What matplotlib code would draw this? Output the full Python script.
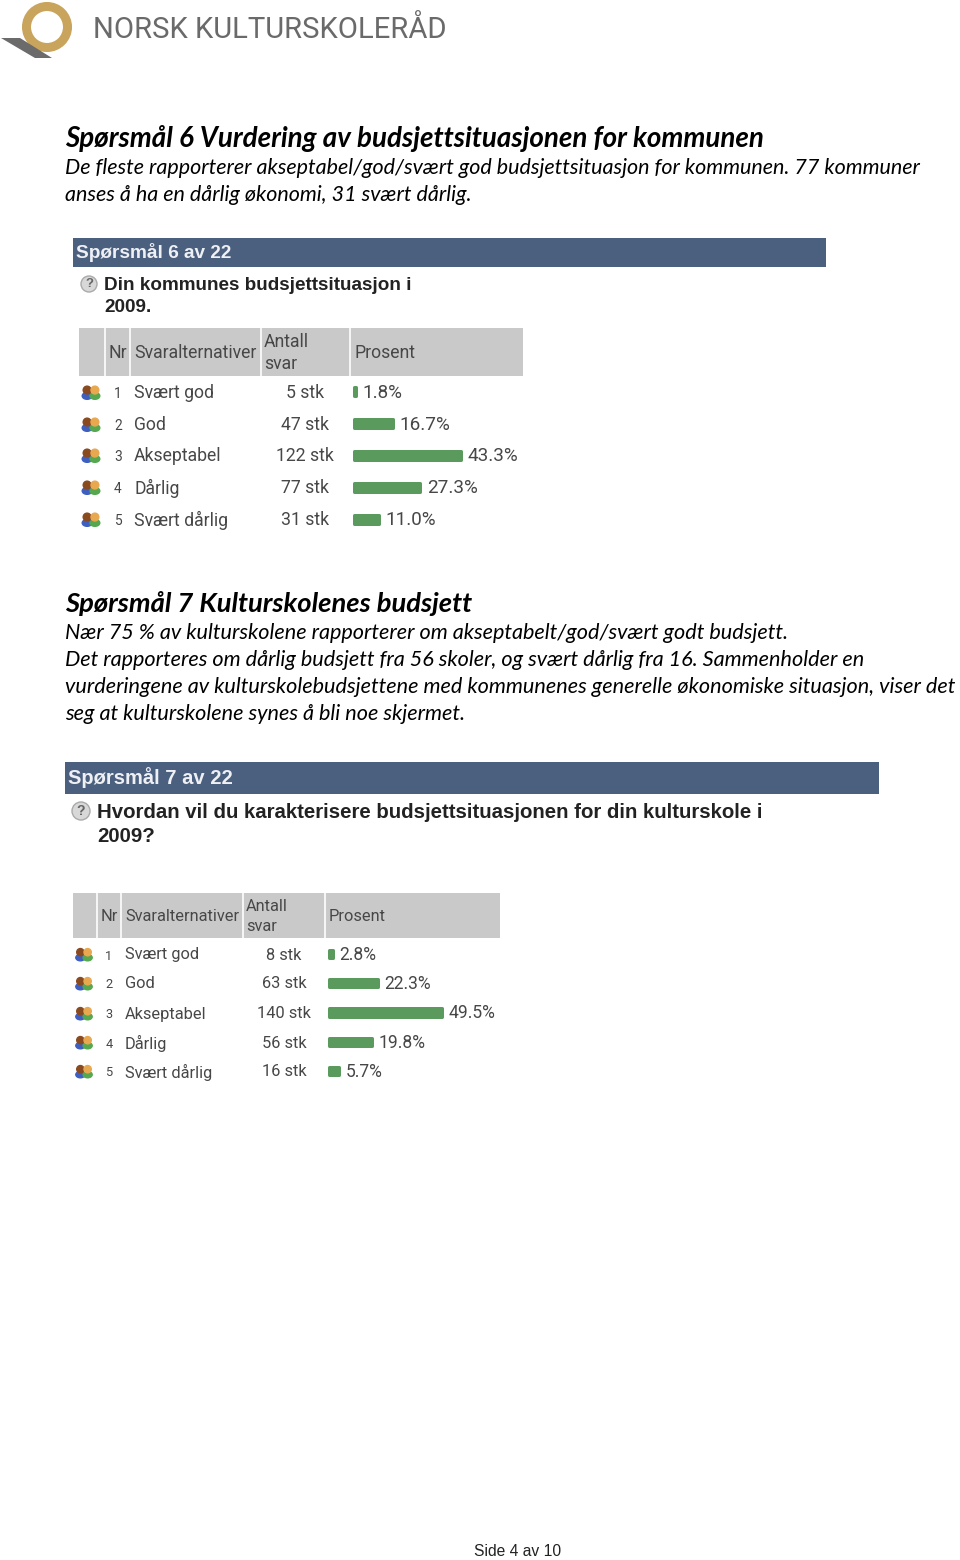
import matplotlib
matplotlib.use('Agg')
import matplotlib.pyplot as plt
from matplotlib.patches import Circle, Polygon, Rectangle, Ellipse

# data
nr = [1, 2, 3, 4, 5]
options = ['Svært god', 'God', 'Akseptabel', 'Dårlig', 'Svært dårlig']
count_q6 = ['5 stk', '47 stk', '122 stk', '77 stk', '31 stk']
pct_q6 = [1.8, 16.7, 43.3, 27.3, 11.0]
count_q7 = ['8 stk', '63 stk', '140 stk', '56 stk', '16 stk']
pct_q7 = [2.8, 22.3, 49.5, 19.8, 5.7]

W, H = 960, 1560
BLUE = '#4b5f7f'
GREY = '#c9c9c9'
GREEN = '#5a9a5c'
TXT = '#474747'
BODY = ['Lato', 'DejaVu Sans']
TABLE = ['Roboto', 'DejaVu Sans']
HEAD = ['Liberation Sans', 'DejaVu Sans']

fig = plt.figure(figsize=(9.6, 15.6), dpi=100, facecolor='white')
page = fig.add_axes([0, 0, 1, 1])
page.set_xlim(0, W)
page.set_ylim(H, 0)
page.axis('off')


def px(size):
    return size * 0.72


def people_icon(x, y, s=1.0):
    # two small people, orange/blue and yellow/green
    page.add_patch(Ellipse((x - 4 * s, y + 4 * s), 10 * s, 7 * s, color='#3f5fc0', zorder=3))
    page.add_patch(Ellipse((x + 4 * s, y + 4 * s), 10 * s, 7 * s, color='#55a84f', zorder=3))
    page.add_patch(Circle((x - 4 * s, y - 2 * s), 4 * s, color='#8a4a20', zorder=4))
    page.add_patch(Circle((x + 4 * s, y - 2 * s), 4 * s, color='#e8a850', zorder=4))


def table(x0, x1, y0, y1, seps, tx, row_y, counts, pcts, bar_x, scale, fs, bar_h):
    page.add_patch(Rectangle((x0, y0), x1 - x0, y1 - y0, color=GREY, lw=0))
    for s in seps:
        page.plot([s, s], [y0, y1], color='white', lw=1.2)
    ym = (y0 + y1) / 2 + 1
    hs = px(fs)
    page.text(tx['nr'], ym, 'Nr', fontsize=hs, family=TABLE, color=TXT, va='center', ha='center')
    page.text(tx['opt'], ym, 'Svaralternativer', fontsize=hs, family=TABLE, color=TXT, va='center')
    page.text(tx['cnt'], ym - (y1 - y0) * 0.22, 'Antall', fontsize=hs, family=TABLE, color=TXT, va='center')
    page.text(tx['cnt'], ym + (y1 - y0) * 0.22, 'svar', fontsize=hs, family=TABLE, color=TXT, va='center')
    page.text(tx['pct'], ym, 'Prosent', fontsize=hs, family=TABLE, color=TXT, va='center')

    # bars in their own axes, x in percent
    pitch = row_y[1] - row_y[0]
    top = row_y[0] - pitch / 2
    bottom = row_y[-1] + pitch / 2
    axw = x1 - bar_x
    ax = fig.add_axes([bar_x / W, 1 - bottom / H, axw / W, (bottom - top) / H])
    ax.set_xlim(0, axw / scale)
    ax.set_ylim(len(pcts) - 0.5, -0.5)
    ax.axis('off')
    ax.patch.set_alpha(0)
    # thick round-joined edge gives the slightly rounded bar ends
    edge = 3
    widths = [v - edge / scale for v in pcts]
    ax.barh(range(len(pcts)), widths, left=edge / 2 / scale, height=(bar_h - edge) / pitch,
            color=GREEN, edgecolor=GREEN, linewidth=px(edge), joinstyle='round')
    for i, v in enumerate(pcts):
        ax.text(v + 5 / scale, i + 0.03, f'{v:.1f}%', fontsize=hs * 1.07, family=TABLE, color=TXT, va='center')

    for i, y in enumerate(row_y):
        people_icon((x0 + seps[0]) / 2 - 1, y, fs / 18)
        page.text(tx['nr'], y + 2, str(nr[i]), fontsize=hs * 0.78, family=TABLE, color=TXT, va='center', ha='center')
        page.text(tx['opt'], y + 1, options[i], fontsize=hs, family=TABLE, color=TXT, va='center')
        page.text(tx['cmid'], y + 1, counts[i], fontsize=hs, family=TABLE, color=TXT, va='center', ha='center')


# logo
page.add_patch(Circle((47, 27), 20.5, fill=False, ec='#c9a45c', lw=6.5))
page.add_patch(Polygon([[1, 38], [20, 38], [52, 58], [35, 58]], color='#6b6b6b', lw=0))
page.text(93, 38, 'NORSK KULTURSKOLERÅD', fontsize=px(29.3), family=['Roboto'],
          color='#6a6a6a', va='baseline')

# question 6 text
page.text(65, 147, 'Spørsmål 6 Vurdering av budsjettsituasjonen for kommunen', fontsize=px(27.7),
          family=BODY, weight='bold', style='italic', color='black')
page.text(65, 174, 'De fleste rapporterer akseptabel/god/svært god budsjettsituasjon for kommunen. 77 kommuner',
          fontsize=px(21.55), family=BODY, style='italic', color='black')
page.text(65, 201, 'anses å ha en dårlig økonomi, 31 svært dårlig.',
          fontsize=px(21.55), family=BODY, style='italic', color='black')

page.add_patch(Rectangle((73, 238), 753, 29, color=BLUE, lw=0))
page.text(76, 253, 'Spørsmål 6 av 22', fontsize=px(19), family=HEAD, weight='bold', color='#eef0f4', va='center')
page.add_patch(Circle((89, 284), 8, fc='#d8d8d8', ec='#aaaaaa', lw=1))
page.text(89, 284, '?', fontsize=px(13), family=HEAD, weight='bold', color='#666666', va='center', ha='center')
page.text(104, 285, 'Din kommunes budsjettsituasjon i', fontsize=px(18.9), family=HEAD, weight='bold', color='#222222', va='center')
page.text(104, 307, '2009.', fontsize=px(18.9), family=HEAD, weight='bold', color='#222222', va='center')

table(79, 523, 328, 376, [105, 130, 261, 350],
      {'nr': 118, 'opt': 134, 'cnt': 264, 'pct': 354, 'cmid': 305},
      [392, 424, 455, 487, 519], count_q6, pct_q6, 352.5, 2.54, 17.6, 12)

# question 7 text
page.text(65, 612, 'Spørsmål 7 Kulturskolenes budsjett', fontsize=px(27.4),
          family=BODY, weight='bold', style='italic', color='black')
q7_lines = ['Nær 75 % av kulturskolene rapporterer om akseptabelt/god/svært godt budsjett.',
            'Det rapporteres om dårlig budsjett fra 56 skoler, og svært dårlig fra 16. Sammenholder en',
            'vurderingene av kulturskolebudsjettene med kommunenes generelle økonomiske situasjon, viser det',
            'seg at kulturskolene synes å bli noe skjermet.']
for y, line in zip([639, 666, 693, 720], q7_lines):
    page.text(65, y, line, fontsize=px(21.65), family=BODY, style='italic', color='black')

page.add_patch(Rectangle((65, 762), 814, 32, color=BLUE, lw=0))
page.text(68, 778, 'Spørsmål 7 av 22', fontsize=px(20.2), family=HEAD, weight='bold', color='#eef0f4', va='center')
page.add_patch(Circle((81, 811), 9, fc='#d8d8d8', ec='#aaaaaa', lw=1))
page.text(81, 811, '?', fontsize=px(14), family=HEAD, weight='bold', color='#666666', va='center', ha='center')
page.text(97, 813, 'Hvordan vil du karakterisere budsjettsituasjonen for din kulturskole i', fontsize=px(20.4),
          family=HEAD, weight='bold', color='#222222', va='center')
page.text(97, 836, '2009?', fontsize=px(20.4), family=HEAD, weight='bold', color='#222222', va='center')

table(73, 500, 893, 938, [97, 121, 243, 325],
      {'nr': 109, 'opt': 125, 'cnt': 246, 'pct': 329, 'cmid': 284},
      [954, 983, 1013, 1042, 1071], count_q7, pct_q7, 327.5, 2.34, 16.4, 11)

# footer
page.text(518, 1552, 'Side 4 av 10', fontsize=px(15.6), family='Liberation Sans', color='#222222', va='center', ha='center')

fig.savefig('out.png', dpi=100)
